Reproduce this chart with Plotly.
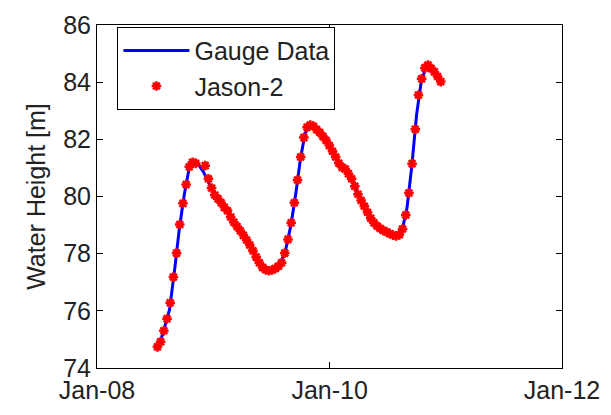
import plotly.graph_objects as go

# Jason-2 altimetry heights (10-day repeat cycle)
jason_dates = [
    "2008-07-09", "2008-07-19", "2008-07-29", "2008-08-08", "2008-08-18", "2008-08-28",
    "2008-09-07", "2008-09-17", "2008-09-27", "2008-10-07", "2008-10-17", "2008-10-27",
    "2008-11-06", "2008-12-06", "2008-12-16", "2008-12-26",
    "2009-01-05", "2009-01-15", "2009-01-25", "2009-02-04", "2009-02-14", "2009-02-24",
    "2009-03-06", "2009-03-16", "2009-03-26", "2009-04-05", "2009-04-15", "2009-04-25",
    "2009-05-05", "2009-05-15", "2009-05-25", "2009-06-04", "2009-06-14", "2009-06-24",
    "2009-07-04", "2009-07-14", "2009-07-24", "2009-08-03", "2009-08-13", "2009-08-23",
    "2009-09-02", "2009-09-12", "2009-09-22", "2009-10-02", "2009-10-12", "2009-10-22",
    "2009-11-01", "2009-11-11", "2009-11-21", "2009-12-01", "2009-12-11", "2009-12-21",
    "2009-12-31",
    "2010-01-10", "2010-01-20", "2010-01-30", "2010-02-09", "2010-02-19", "2010-03-01",
    "2010-03-11", "2010-03-21", "2010-03-31", "2010-04-10", "2010-04-20", "2010-04-30",
    "2010-05-10", "2010-05-20", "2010-05-30", "2010-06-09", "2010-06-19", "2010-06-29",
    "2010-07-09", "2010-07-19", "2010-07-29", "2010-08-08", "2010-08-18", "2010-08-28",
    "2010-09-07", "2010-09-17", "2010-09-27", "2010-10-07", "2010-10-17", "2010-10-27",
    "2010-11-06", "2010-11-16", "2010-11-26", "2010-12-06", "2010-12-16",
]
jason_height = [
    74.74, 74.92, 75.30, 75.72, 76.28, 77.18,
    78.02, 79.02, 79.76, 80.42, 81.04, 81.20,
    81.16, 81.08, 80.62, 80.30,
    80.05, 79.92, 79.78, 79.62, 79.50, 79.28,
    79.10, 78.95, 78.80, 78.64, 78.48, 78.30,
    78.10, 77.88, 77.68, 77.52, 77.44, 77.40,
    77.43, 77.48, 77.56, 77.68, 78.02, 78.50,
    79.08, 79.78, 80.58, 81.38, 82.06, 82.42,
    82.50, 82.46, 82.34, 82.24, 82.10, 81.96,
    81.78,
    81.58, 81.38, 81.16, 81.02, 80.96, 80.80,
    80.62, 80.36, 80.08, 79.86, 79.66, 79.45,
    79.24, 79.08, 78.97, 78.88, 78.81, 78.76,
    78.70, 78.65, 78.62, 78.66, 78.86, 79.35,
    80.12, 81.15, 82.35, 83.55, 84.12, 84.50,
    84.60, 84.48, 84.36, 84.20, 84.02,
]

# In-situ gauge record
gauge_dates = [
    "2008-07-09", "2008-07-16", "2008-08-01", "2008-08-16", "2008-09-01", "2008-09-16",
    "2008-10-01", "2008-10-16", "2008-11-01", "2008-11-16", "2008-12-01", "2008-12-16",
    "2009-01-01", "2009-01-16", "2009-02-01", "2009-02-16", "2009-03-01", "2009-03-16",
    "2009-04-01", "2009-04-16", "2009-05-01", "2009-05-16", "2009-06-01", "2009-06-16",
    "2009-07-01", "2009-07-16", "2009-08-01", "2009-08-16", "2009-09-01", "2009-09-16",
    "2009-10-01", "2009-10-16", "2009-11-01", "2009-11-16", "2009-12-01", "2009-12-16",
    "2010-01-01", "2010-01-16", "2010-02-01", "2010-02-16", "2010-03-01", "2010-03-16",
    "2010-04-01", "2010-04-16", "2010-05-01", "2010-05-16", "2010-06-01", "2010-06-16",
    "2010-07-01", "2010-07-16", "2010-08-01", "2010-08-16", "2010-09-01", "2010-09-16",
    "2010-10-01", "2010-10-16", "2010-11-01", "2010-11-16", "2010-12-01", "2010-12-16",
]
gauge_height = [
    74.72, 74.85, 75.45, 76.05, 77.45, 78.90,
    80.05, 80.95, 81.22, 81.10, 80.85, 80.50,
    80.12, 79.90, 79.68, 79.45, 79.22, 78.96,
    78.72, 78.47, 78.20, 77.86, 77.60, 77.44,
    77.42, 77.49, 77.70, 78.15, 78.98, 80.05,
    81.30, 82.22, 82.48, 82.38, 82.22, 82.02,
    81.72, 81.45, 81.12, 80.97, 80.78, 80.48,
    80.05, 79.74, 79.44, 79.14, 78.95, 78.84,
    78.76, 78.67, 78.62, 78.78, 79.60, 81.05,
    82.85, 84.05, 84.55, 84.48, 84.28, 84.05,
]

y_ticks = [74, 76, 78, 80, 82, 84, 86]
x_ticks = ["2008-01-01", "2010-01-01", "2012-01-01"]
x_tick_labels = ["Jan-08", "Jan-10", "Jan-12"]

FONT = "Liberation Sans, Arial, sans-serif"
TEXT_COLOR = "#222222"

fig = go.Figure()
fig.add_trace(go.Scatter(
    x=gauge_dates, y=gauge_height, mode="lines", name="Gauge Data",
    line=dict(color="#0000ff", width=3),
))
fig.add_trace(go.Scatter(
    x=jason_dates, y=jason_height, mode="markers", name="Jason-2",
    marker=dict(color="#ff0000", symbol="asterisk-open", size=8,
                line=dict(width=2.5, color="#ff0000")),
))

axis_common = dict(
    showline=True, linecolor="black", linewidth=1, mirror="ticks",
    ticks="inside", ticklen=6, tickwidth=1, tickcolor="black",
    showgrid=False, zeroline=False,
    tickfont=dict(family=FONT, size=25, color=TEXT_COLOR),
    ticklabeloverflow="allow",
)

fig.update_xaxes(
    type="date", range=["2008-01-01", "2012-01-01"],
    tickvals=x_ticks, ticktext=x_tick_labels, **axis_common,
)
fig.update_yaxes(
    range=[74, 86], tickvals=y_ticks,
    title=dict(text="Water Height [m]", font=dict(family=FONT, size=25, color=TEXT_COLOR), standoff=10),
    **axis_common,
)

fig.update_layout(
    width=611, height=415,
    margin=dict(l=97, r=42, t=11, b=33),
    paper_bgcolor="white", plot_bgcolor="white",
    showlegend=True,
    legend=dict(
        x=0.044, y=0.995, xanchor="left", yanchor="top",
        bgcolor="white", bordercolor="black", borderwidth=1,
        font=dict(family=FONT, size=25, color=TEXT_COLOR),
        itemwidth=66,
        entrywidth=283, entrywidthmode="pixels",
    ),
)

fig.write_html("out.html")
